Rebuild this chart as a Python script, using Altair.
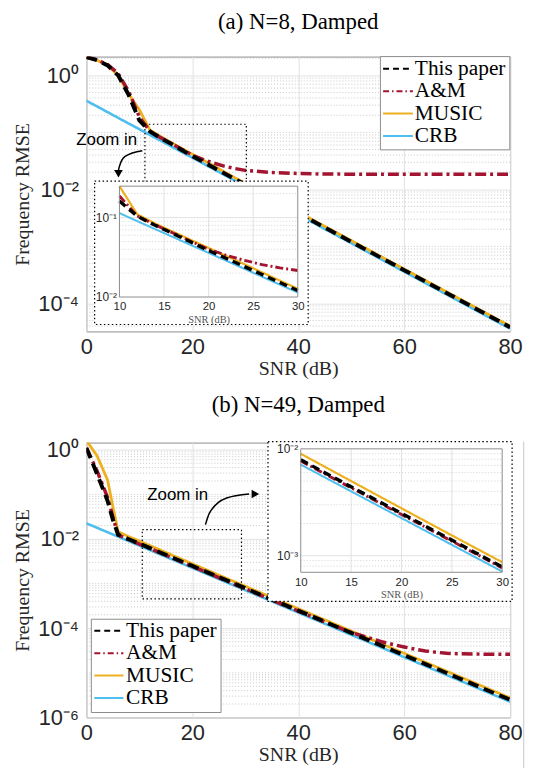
import altair as alt
import pandas as pd

METHODS = ["This paper", "A&M", "MUSIC", "CRB"]
COLORS = ["#000000", "#A2142F", "#EDB120", "#4DBEEE"]

# ---------------- panel (a): N=8, Damped ----------------
snr_a = [0, 2, 4, 6, 8, 10, 12, 14, 16, 18, 20, 22, 24, 26, 28, 30, 35, 40, 45, 50, 60, 70, 80]
this_a = [2.1, 1.85, 1.5, 1.0, 0.45, 0.162, 0.104, 0.080, 0.0630, 0.0492, 0.0385, 0.0306, 0.0242,
          0.0192, 0.0152, 0.0121, 0.0068, 0.00383, 0.00215, 0.00121, 0.000383, 0.000121, 0.0000383]
am_a = [2.1, 1.87, 1.55, 1.08, 0.52, 0.187, 0.105, 0.081, 0.064, 0.0505, 0.0398, 0.0335, 0.0290,
        0.0256, 0.0233, 0.0216, 0.0198, 0.0190, 0.0186, 0.0185, 0.0184, 0.0184, 0.0184]
music_a = [2.1, 1.85, 1.5, 1.0, 0.47, 0.25, 0.110, 0.0845, 0.0665, 0.0525, 0.0415, 0.0328, 0.0260,
           0.0204, 0.0161, 0.0127, 0.0071, 0.0040, 0.00225, 0.00127, 0.00040, 0.000127, 0.000040]
crb_a = [0.36, 0.286, 0.227, 0.180, 0.143, 0.114, 0.0903, 0.0717, 0.0570, 0.0452, 0.0360, 0.0286,
         0.0227, 0.0180, 0.0143, 0.0114, 0.0064, 0.0036, 0.00202, 0.00114, 0.00036, 0.000114, 0.000036]

# ---------------- panel (b): N=49, Damped ----------------
snr_b = [0, 2, 4, 5, 6, 8, 10, 15, 20, 25, 30, 35, 40, 45, 50, 52, 54, 56, 58, 60, 62, 64, 66, 68, 70, 75, 80]
this_b = [1.1, 0.29, 0.072, 0.027, 0.0125, 0.0099, 0.0079, 0.00442, 0.00249, 0.00140, 0.000787,
          0.000442, 0.000249, 0.000140, 0.0000787, 0.0000625, 0.0000496, 0.0000394, 0.0000313,
          0.0000249, 0.0000198, 0.0000157, 0.0000125, 0.0000099, 0.00000787, 0.00000442, 0.00000249]
am_b = [1.1, 0.34, 0.085, 0.031, 0.0123, 0.0097, 0.0077, 0.00432, 0.00243, 0.00137, 0.00077,
        0.000432, 0.000243, 0.000137, 0.000080, 0.000068, 0.000058, 0.000049, 0.000043, 0.000038,
        0.000034, 0.000031, 0.000029, 0.0000275, 0.0000268, 0.0000262, 0.000026]
music_b = [1.6, 0.74, 0.21, 0.053, 0.0146, 0.0113, 0.0090, 0.00500, 0.00278, 0.00155, 0.00087,
           0.00049, 0.000274, 0.000154, 0.0000865, 0.0000687, 0.0000546, 0.0000434, 0.0000344,
           0.0000274, 0.0000218, 0.0000173, 0.0000137, 0.0000109, 0.00000866, 0.00000487, 0.00000274]
crb_b = [0.0225, 0.01788, 0.0142, 0.01265, 0.01128, 0.00896, 0.00712, 0.0040, 0.00225, 0.001265,
         0.000712, 0.0004, 0.000225, 0.0001265, 0.0000712, 0.0000565, 0.0000449, 0.0000357,
         0.0000283, 0.0000225, 0.0000179, 0.0000142, 0.0000113, 0.00000896, 0.00000712,
         0.0000040, 0.00000225]

W, H = 427, 277
GRID = "#e2e2e2"
MINOR = "#c8c8c8"
AXC = "#262626"
FRAME = "#8c8c8c"

LW = {"This paper": 4, "A&M": 3.5, "MUSIC": 2.8, "CRB": 2.6}
DASH_MAIN = {"This paper": [11, 6], "A&M": [11, 4, 3, 4], "MUSIC": [1, 0], "CRB": [1, 0]}
DASH_INSET = {"This paper": [8, 5], "A&M": [8, 3, 2, 3], "MUSIC": [1, 0], "CRB": [1, 0]}
DASH_LEG = {"This paper": [6, 4], "A&M": [6, 3, 1.5, 3], "MUSIC": [1, 0], "CRB": [1, 0]}
DRAW_ORDER = ["CRB", "MUSIC", "A&M", "This paper"]


def long_df(snr, series):
    rows = []
    for m, vals in zip(METHODS, series):
        for s, v in zip(snr, vals):
            rows.append({"snr": s, "rmse": v, "method": m})
    return pd.DataFrame(rows)


K = "round(log(datum.value)/LN10)"
SUP = {0: "⁰", -1: "⁻¹", -2: "⁻²", -3: "⁻³", -4: "⁻⁴", -5: "⁻⁵", -6: "⁻⁶"}


def sup_expr():
    expr = "''"
    for k, s in SUP.items():
        expr = f"({K} == {k} ? '{s}' : {expr})"
    return "'10' + " + expr


def minor_vals(lo, hi, kmin, kmax):
    out = []
    for k in range(kmin, kmax + 1):
        for m in range(1, 10):
            v = m * 10.0 ** k
            if not (lo < v < hi):
                continue
            if m == 1 and (k % 2 == 0):
                continue
            out.append(v)
    return out


def dash_scale(d):
    return alt.Scale(domain=METHODS, range=[d[m] for m in METHODS])


def color_enc():
    return alt.Color("method:N", scale=alt.Scale(domain=METHODS, range=COLORS), legend=None)


def one():
    return pd.DataFrame({"a": [0]})


def panel(title, df, ydom, yvals, minors, zoombox, arrow, head, head_shape, ztxt,
          ibox, iplot, iydom, iyvals, imajor, iminor, lbox, lrows, lsym, ltx, extra=None):
    xs = alt.Scale(domain=[0, 80], nice=False, zero=False)
    ys = alt.Scale(type="log", domain=ydom, nice=False)
    xax = alt.Axis(values=[0, 20, 40, 60, 80], grid=True, gridColor=GRID, ticks=False, domain=False,
                   labelFont="Liberation Sans", labelFontSize=22, labelColor=AXC, labelPadding=5,
                   labelFlush=False, title="SNR (dB)", titleFont="Liberation Serif", titleFontSize=20,
                   titleFontWeight="normal", titleColor=AXC, titlePadding=1)
    yax = alt.Axis(values=yvals, labelExpr=sup_expr(), grid=True, gridColor=GRID, ticks=False,
                   domain=False, labelFont="Liberation Sans", labelFontSize=22, labelColor=AXC,
                   labelPadding=8, title="Frequency RMSE", titleFont="Liberation Serif",
                   titleFontSize=20, titleFontWeight="normal", titleColor=AXC, titlePadding=5)

    minor = alt.Chart(pd.DataFrame({"v": minors})).mark_rule(
        color=MINOR, strokeDash=[1, 2], strokeWidth=1).encode(
        y=alt.Y("v:Q", scale=ys, axis=yax), x=alt.value(0), x2=alt.value(W))

    lines = []
    for m in DRAW_ORDER:
        lines.append(alt.Chart(df).transform_filter(f"datum.method === '{m}'").mark_line(
            strokeWidth=LW[m], clip=True, strokeCap="butt").encode(
            x=alt.X("snr:Q", scale=xs, axis=xax), y=alt.Y("rmse:Q", scale=ys, axis=yax),
            color=color_enc(),
            strokeDash=alt.StrokeDash("method:N", scale=dash_scale(DASH_MAIN), legend=None)))

    zb = alt.Chart(pd.DataFrame([zoombox])).mark_rect(
        fillOpacity=0, stroke="black", strokeDash=[1.5, 2.5], strokeWidth=1.2).encode(
        x=alt.X("x0:Q", scale=xs, axis=xax), x2="x1:Q",
        y=alt.Y("y0:Q", scale=ys, axis=yax), y2="y1:Q")
    arr = alt.Chart(pd.DataFrame(arrow)).mark_line(
        color="black", strokeWidth=1.5, interpolate="monotone").encode(
        x=alt.X("x:Q", scale=xs, axis=xax), y=alt.Y("y:Q", scale=ys, axis=yax))
    hd = alt.Chart(pd.DataFrame([head])).mark_point(
        shape=head_shape, filled=True, size=75, color="black", opacity=1).encode(
        x=alt.X("x:Q", scale=xs, axis=xax), y=alt.Y("y:Q", scale=ys, axis=yax))
    tx = alt.Chart(pd.DataFrame([ztxt])).mark_text(
        text="Zoom in", font="Liberation Sans", fontSize=17, color="black").encode(
        x=alt.X("x:Q", scale=xs, axis=xax), y=alt.Y("y:Q", scale=ys, axis=yax))

    main = alt.layer(minor, *lines, zb, arr, hd, tx)

    # ---- inset ----
    inset_bg = alt.Chart(one()).mark_rect(
        fill="white", stroke="black", strokeDash=[1.5, 2.5], strokeWidth=1.2).encode(
        x=alt.value(ibox[0]), x2=alt.value(ibox[1]), y=alt.value(ibox[2]), y2=alt.value(ibox[3]))

    ixs = alt.Scale(domain=[10, 30], range=[iplot[0], iplot[1]], nice=False, zero=False)
    iys = alt.Scale(type="log", domain=iydom, range=[iplot[3], iplot[2]], nice=False, clamp=True)
    ixax = alt.Axis(orient="bottom", offset=-(H - iplot[3]), values=[10, 15, 20, 25, 30],
                    grid=False, ticks=False, domain=False, labelFont="Liberation Sans",
                    labelFontSize=11.5, labelColor=AXC, labelPadding=4, labelFlush=False,
                    title="SNR (dB)", titleFont="Liberation Serif", titleFontSize=10.5,
                    titleFontWeight="normal", titleColor="#555555", titlePadding=2, zindex=1)
    iyax = alt.Axis(orient="left", offset=-iplot[0], values=iyvals, labelExpr=sup_expr(),
                    grid=False, ticks=False, domain=False, labelFont="Liberation Sans",
                    labelFontSize=12, labelColor=AXC, labelPadding=3, title=None, zindex=1)

    lo, hi = iydom
    vgrid = alt.Chart(pd.DataFrame({"x": [15, 20, 25], "y": [lo] * 3, "y2": [hi] * 3})).mark_rule(
        color=GRID, strokeWidth=1).encode(
        x=alt.X("x:Q", scale=ixs, axis=ixax), y=alt.Y("y:Q", scale=iys, axis=iyax), y2="y2:Q")
    hmaj = alt.Chart(pd.DataFrame({"y": imajor, "x": [10] * len(imajor), "x2": [30] * len(imajor)})).mark_rule(
        color=GRID, strokeWidth=1).encode(
        x=alt.X("x:Q", scale=ixs, axis=ixax), x2="x2:Q", y=alt.Y("y:Q", scale=iys, axis=iyax))
    hmin = alt.Chart(pd.DataFrame({"y": iminor, "x": [10] * len(iminor), "x2": [30] * len(iminor)})).mark_rule(
        color=MINOR, strokeDash=[1, 2], strokeWidth=0.8).encode(
        x=alt.X("x:Q", scale=ixs, axis=ixax), x2="x2:Q", y=alt.Y("y:Q", scale=iys, axis=iyax))
    iframe = alt.Chart(pd.DataFrame({"x": [10], "x2": [30], "y": [lo], "y2": [hi]})).mark_rect(
        fillOpacity=0, stroke=FRAME, strokeWidth=1).encode(
        x=alt.X("x:Q", scale=ixs, axis=ixax), x2="x2:Q",
        y=alt.Y("y:Q", scale=iys, axis=iyax), y2="y2:Q")
    ilines = []
    for m in DRAW_ORDER:
        ilines.append(alt.Chart(df).transform_filter(
            f"datum.method === '{m}' && datum.snr >= 10 && datum.snr <= 30").mark_line(
            strokeWidth=LW[m] - 0.6, strokeCap="butt").encode(
            x=alt.X("snr:Q", scale=ixs, axis=ixax), y=alt.Y("rmse:Q", scale=iys, axis=iyax),
            color=color_enc(),
            strokeDash=alt.StrokeDash("method:N", scale=dash_scale(DASH_INSET), legend=None)))
    inset = alt.layer(vgrid, hmaj, hmin, *ilines, iframe)

    # ---- legend ----
    ldf = pd.DataFrame({"method": METHODS})
    lys = alt.Scale(type="point", domain=METHODS, range=[lrows[0], lrows[1]], padding=0)
    lb = alt.Chart(one()).mark_rect(fill="white", stroke=FRAME, strokeWidth=1).encode(
        x=alt.value(lbox[0]), x2=alt.value(lbox[1]), y=alt.value(lbox[2]), y2=alt.value(lbox[3]))
    ls = alt.Chart(ldf).mark_rule(strokeWidth=2).encode(
        x=alt.value(lsym[0]), x2=alt.value(lsym[1]),
        y=alt.Y("method:N", scale=lys, axis=None), color=color_enc(),
        strokeDash=alt.StrokeDash("method:N", scale=dash_scale(DASH_LEG), legend=None))
    lt = alt.Chart(ldf).mark_text(align="left", baseline="middle", font="Liberation Serif",
                                  fontSize=21.5, color="black").encode(
        x=alt.value(ltx), y=alt.Y("method:N", scale=lys, axis=None), text="method:N")
    legend = alt.layer(lb, ls, lt)

    layers = [main, inset_bg, inset, legend]
    if extra is not None:
        layers.append(extra)
    return alt.layer(*layers).resolve_scale(
        x="independent", y="independent", strokeDash="independent").properties(
        width=W, height=H,
        title=alt.Title(title, font="Liberation Serif", fontSize=23, fontWeight="normal",
                        color="black", offset=22))


df_a = long_df(snr_a, [this_a, am_a, music_a, crb_a])
df_b = long_df(snr_b, [this_b, am_b, music_b, crb_b])

pa = panel(
    "(a) N=8, Damped", df_a, [3.22e-5, 2.14], [1, 0.01, 0.0001],
    minor_vals(3.22e-5, 2.14, -5, 0),
    {"x0": 11.05, "x1": 30.2, "y0": 0.005, "y1": 0.139},
    {"x": [10.55, 7.31, 6.24, 6.05], "y": [0.0477, 0.0381, 0.0255, 0.0215]},
    {"x": 6.05, "y": 0.0188}, "triangle-down",
    {"x": 3.84, "y": 0.0741},
    (8.3, 223.5, 125.6, 270), (33.3, 213, 130.6, 242.3), [0.01, 0.249], [0.1, 0.01],
    [0.1], [0.02, 0.03, 0.04, 0.05, 0.06, 0.07, 0.08, 0.09, 0.2],
    (296.3, 426.7, 0, 94), (12.3, 80), (299, 329), 331,
)

artifact = alt.Chart(one()).mark_rule(color="#c8c8c8", strokeWidth=1).encode(
    x=alt.value(440.7), y=alt.value(-1), y2=alt.value(328))

pb = panel(
    "(b) N=49, Damped", df_b, [1e-6, 1.45], [1, 1e-2, 1e-4, 1e-6],
    minor_vals(1e-6, 1.45, -6, 0),
    {"x0": 10.55, "x1": 29.28, "y0": 4.55e-4, "y1": 0.01625},
    {"x": [22.48, 23.23, 26.36, 30.73], "y": [0.021, 0.0381, 0.082, 0.1019]},
    {"x": 31.9, "y": 0.1019}, "triangle-right",
    {"x": 17.24, "y": 0.0973},
    (183, 429, -1, 160), (216, 419, 6.3, 130.7), [7.0e-4, 0.01], [0.01, 0.001],
    [0.001], [0.0008, 0.0009, 0.002, 0.003, 0.004, 0.005, 0.006, 0.007, 0.008, 0.009],
    (5, 135.7, 178, 272), (189.7, 257.3), (8, 37.3), 40,
    extra=artifact,
)

chart = alt.vconcat(pa, pb, spacing=14).properties(
    padding={"left": 4, "top": 0, "right": 0, "bottom": 0}
).configure_view(stroke=FRAME, strokeWidth=1)

chart.save("out.html", embed_options={"renderer": "svg", "actions": False})
